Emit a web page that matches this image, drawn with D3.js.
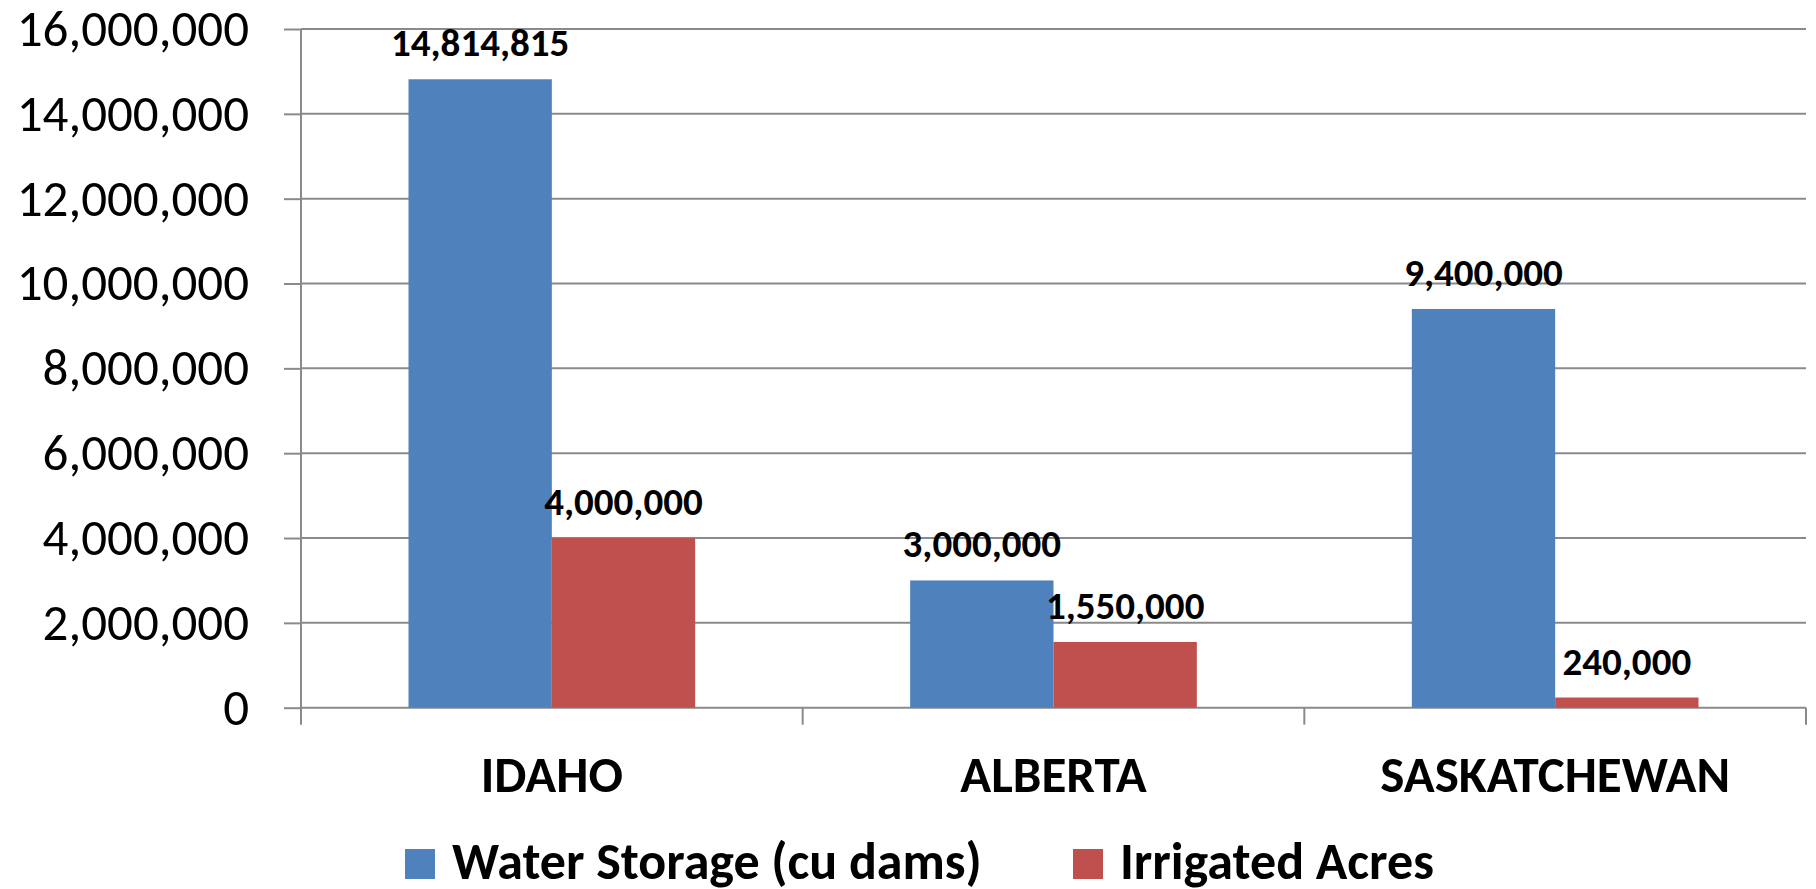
<!DOCTYPE html>
<meta charset="utf-8">
<body>
<svg id="chart"></svg>
</body>
<script src="https://d3js.org/d3.v7.min.js"></script>
<script>

// chart values
var categories = ["IDAHO", "ALBERTA", "SASKATCHEWAN"];
var seriesNames = ["Water Storage (cu dams)", "Irrigated Acres"];
var waterStorage = [14814815, 3000000, 9400000];
var irrigatedAcres = [4000000, 1550000, 240000];
var yTicks = [0, 2000000, 4000000, 6000000, 8000000, 10000000, 12000000, 14000000, 16000000];

var width = 1816, height = 889;
var colors = ["#4F81BD", "#C0504D"];
var font = "Carlito, 'Liberation Sans', Arial, sans-serif";

var svg = d3.select("#chart")
		.attr("width", width)
		.attr("height", height)
		.style("font-family", font);

var plotLeft = 301, plotRight = 1806, plotTop = 29, plotBottom = 707.7;

var x0 = d3.scaleBand()
		.domain(categories)
		.range([plotLeft, plotRight])
		.padding(0);

// excel style: gap width 150% -> outer padding 0.75 of a bar on each side
var x1 = d3.scaleBand()
		.domain(seriesNames)
		.range([0, x0.bandwidth()])
		.paddingInner(0)
		.paddingOuter(0.75);

var y = d3.scaleLinear()
		.domain([0, 16000000])
		.range([plotBottom, plotTop]);

var fmt = d3.format(",");
var gridColor = "#8a8a8a";

// gridlines
svg.append("g")
	.selectAll("line")
	.data(yTicks)
	.enter().append("line")
	.attr("x1", plotLeft).attr("x2", plotRight)
	.attr("y1", d => y(d)).attr("y2", d => y(d))
	.attr("stroke", gridColor)
	.attr("stroke-width", 2);

// y axis labels + small ticks
var yAxis = d3.axisLeft(y)
		.tickValues(yTicks)
		.tickFormat(fmt)
		.tickSizeInner(17)
		.tickSizeOuter(0)
		.tickPadding(35);

var ga = svg.append("g")
		.attr("transform", "translate(" + plotLeft + ",0)")
		.call(yAxis);
ga.select(".domain").remove();
ga.selectAll("line").attr("stroke", gridColor).attr("stroke-width", 2);
ga.selectAll("text")
	.style("font-family", font)
	.style("font-size", "51px")
	.attr("fill", "#000");

// vertical axis line
svg.append("line")
	.attr("x1", plotLeft).attr("x2", plotLeft)
	.attr("y1", plotTop).attr("y2", plotBottom + 17)
	.attr("stroke", gridColor).attr("stroke-width", 2);

// category boundary ticks
var bounds = categories.map(c => x0(c) + x0.bandwidth());
svg.append("g")
	.selectAll("line")
	.data(bounds)
	.enter().append("line")
	.attr("x1", d => d).attr("x2", d => d)
	.attr("y1", plotBottom).attr("y2", plotBottom + 17)
	.attr("stroke", gridColor).attr("stroke-width", 2);

// bars
var rows = categories.map(function(c, i) {
	return {cat: c, values: [waterStorage[i], irrigatedAcres[i]]};
});

var groups = svg.append("g")
	.selectAll("g")
	.data(rows)
	.enter().append("g")
	.attr("transform", d => "translate(" + x0(d.cat) + ",0)");

groups.selectAll("rect")
	.data(d => d.values.map((v, j) => ({name: seriesNames[j], value: v, j: j})))
	.enter().append("rect")
	.attr("x", d => x1(d.name))
	.attr("width", x1.bandwidth())
	.attr("y", d => y(d.value))
	.attr("height", d => plotBottom - y(d.value))
	.attr("fill", d => colors[d.j]);

groups.selectAll("text")
	.data(d => d.values.map((v, j) => ({name: seriesNames[j], value: v})))
	.enter().append("text")
	.attr("x", d => x1(d.name) + x1.bandwidth() / 2)
	.attr("y", d => y(d.value) - 23)
	.attr("text-anchor", "middle")
	.style("font-size", "39px")
	.style("font-weight", "bold")
	.text(d => fmt(d.value));

// category labels
svg.append("g")
	.selectAll("text")
	.data(categories)
	.enter().append("text")
	.attr("x", d => x0(d) + x0.bandwidth() / 2)
	.attr("y", 792)
	.attr("text-anchor", "middle")
	.style("font-size", "51px")
	.style("font-weight", "bold")
	.text(d => d);

// legend
var legendStarts = [405, 1073];
var legend = svg.append("g")
	.selectAll("g")
	.data(seriesNames)
	.enter().append("g")
	.attr("transform", (d, i) => "translate(" + legendStarts[i] + ",849)");

legend.append("rect")
	.attr("width", 30).attr("height", 30)
	.attr("fill", (d, i) => colors[i]);

legend.append("text")
	.attr("x", 47)
	.attr("y", 29.5)
	.style("font-size", "52px")
	.style("font-weight", "bold")
	.text(d => d);

</script>
<style>
	body { margin: 0; background: #fff; }
	svg { display: block; }
</style>
</html>
